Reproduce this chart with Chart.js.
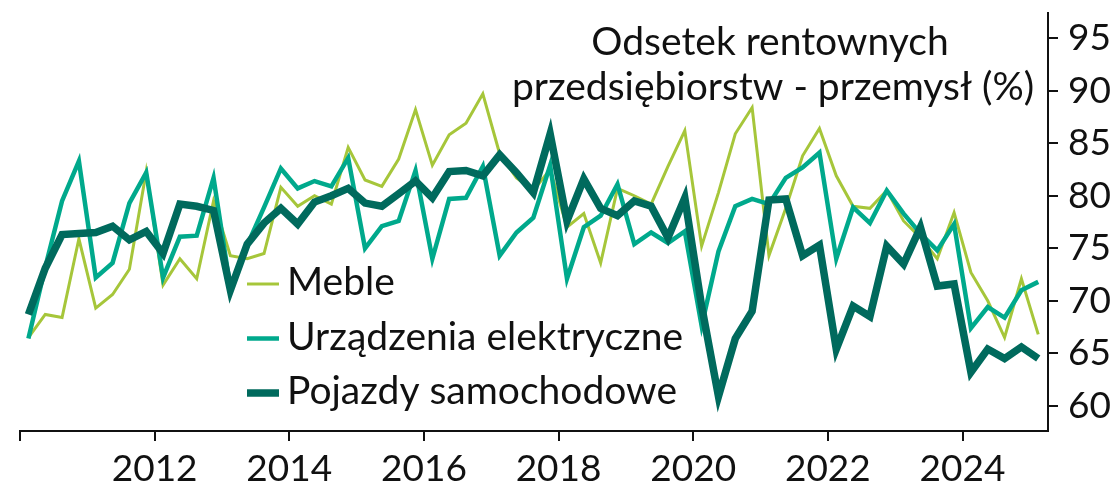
<!DOCTYPE html>
<html>
<head>
<meta charset="utf-8">
<script src="https://cdn.jsdelivr.net/npm/chart.js@4.4.1/dist/chart.umd.min.js"></script>
<style>
  html, body { margin: 0; padding: 0; background: #fff; }
  #wrap { width: 1117px; height: 484px; }
</style>
</head>
<body>
<div id="wrap"><canvas id="chart" width="1117" height="484"></canvas></div>
<script>
// kwartały 2010 Q1 - 2025 Q1 (środek kwartału)
const dates = [];
for (let q = 0; q <= 60; q++) dates.push(2010 + 0.125 + q * 0.25);

const meble = [66.5, 68.7, 68.4, 75.9, 69.3, 70.6, 73.0, 82.3, 71.5, 74.0,
  72.1, 79.5, 74.3, 74.0, 74.5, 80.8, 79.0, 80.0, 79.2, 84.6,
  81.5, 80.9, 83.5, 88.2, 82.9, 85.8, 86.9, 89.7, 84.0, 81.7,
  80.5, 82.5, 77.0, 78.3, 73.6, 80.7, 80.0, 79.2, 82.8, 86.2,
  75.2, 80.3, 85.9, 88.4, 74.3, 78.8, 83.8, 86.4, 81.9, 79.0,
  78.8, 80.5, 77.6, 76.0, 74.0, 78.4, 72.7, 70.0, 66.5, 72.1, 66.8];

const urzadzenia = [66.4, 73.2, 79.5, 83.3, 72.2, 73.6, 79.3, 82.2, 72.2, 76.1,
  76.2, 81.7, 71.2, 75.3, 78.9, 82.6, 80.7, 81.4, 80.9, 83.6,
  75.0, 77.1, 77.6, 82.4, 74.0, 79.7, 79.8, 82.8, 74.3, 76.5,
  77.9, 82.9, 72.1, 77.0, 78.1, 81.1, 75.4, 76.5, 75.5, 76.6,
  67.6, 74.7, 79.0, 79.7, 79.2, 81.7, 82.7, 84.1, 74.0, 78.9,
  77.4, 80.5, 78.3, 76.4, 74.8, 77.3, 67.4, 69.4, 68.4, 71.0, 71.8];

const pojazdy = [68.7, 73.1, 76.3, 76.4, 76.5, 77.1, 75.8, 76.6, 74.5, 79.2,
  79.0, 78.6, 71.0, 75.4, 77.4, 78.8, 77.3, 79.4, 80.0, 80.7,
  79.3, 79.0, 80.2, 81.4, 79.8, 82.3, 82.4, 81.9, 83.9, 82.2,
  80.3, 85.9, 77.6, 81.6, 78.8, 78.1, 79.5, 79.0, 76.0, 79.8,
  69.5, 60.9, 66.4, 69.0, 79.6, 79.7, 74.3, 75.3, 65.4, 69.5,
  68.5, 75.2, 73.5, 77.0, 71.4, 71.6, 63.2, 65.4, 64.5, 65.6, 64.5];

const xTicks = [2010, 2012, 2014, 2016, 2018, 2020, 2022, 2024];
const yTicks = [60, 65, 70, 75, 80, 85, 90, 95];
const titleLines = ["Odsetek rentownych", "przedsiębiorstw - przemysł (%)"];

const FONT = "Lato, 'Open Sans', sans-serif";
const INK = "#111";

function toPoints(values) {
  return values.map((v, i) => ({ x: dates[i], y: v }));
}

// tytuł i legenda wewnątrz wykresu
const overlay = {
  id: "overlay",
  afterDatasetsDraw(chart) {
    const ctx = chart.ctx;
    ctx.save();
    ctx.fillStyle = INK;
    ctx.font = "39px " + FONT;
    ctx.textAlign = "center";
    ctx.textBaseline = "alphabetic";
    ctx.fillText(titleLines[0], 770, 55);
    ctx.fillText(titleLines[1], 773, 100);

    // legenda w kolejności: Meble, Urządzenia, Pojazdy
    const rows = [2, 1, 0];
    rows.forEach((di, r) => {
      const ds = chart.data.datasets[di];
      const y = 284 + r * 54.5;
      ctx.strokeStyle = ds.borderColor;
      ctx.lineWidth = ds.borderWidth;
      ctx.lineCap = "butt";
      ctx.beginPath();
      ctx.moveTo(247, y);
      ctx.lineTo(279, y);
      ctx.stroke();
      ctx.textAlign = "left";
      ctx.fillText(ds.label, 287, y + 11);
    });
    ctx.restore();
  }
};

const ctx = document.getElementById("chart").getContext("2d");
new Chart(ctx, {
  type: "line",
  data: {
    datasets: [
      { label: "Pojazdy samochodowe", data: toPoints(pojazdy), borderColor: "#006a5d", borderWidth: 7.5, order: 1 },
      { label: "Urządzenia elektryczne", data: toPoints(urzadzenia), borderColor: "#00a98c", borderWidth: 4.5, order: 2 },
      { label: "Meble", data: toPoints(meble), borderColor: "#a6c63a", borderWidth: 3, order: 3 }
    ]
  },
  options: {
    responsive: false,
    animation: false,
    layout: { padding: { left: 20, top: 13, right: 0, bottom: 0 } },
    elements: {
      point: { radius: 0 },
      line: { tension: 0, borderJoinStyle: "miter", fill: false }
    },
    plugins: {
      legend: { display: false },
      tooltip: { enabled: false }
    },
    scales: {
      x: {
        type: "linear",
        min: 2010,
        max: 2025.27,
        afterBuildTicks: s => { s.ticks = xTicks.map(v => ({ value: v })); },
        afterFit: s => { s.height = 53; s.paddingLeft = 0; s.paddingRight = 0; },
        grid: { drawOnChartArea: false, drawTicks: true, tickLength: 10, color: INK, lineWidth: 2 },
        border: { display: true, color: INK, width: 2 },
        ticks: {
          callback: v => (v === 2010 ? "" : String(v)),
          autoSkip: false,
          maxRotation: 0,
          padding: 6,
          color: INK,
          font: { family: FONT, size: 37 }
        }
      },
      y: {
        type: "linear",
        position: "right",
        min: 57.6,
        max: 97.4,
        afterBuildTicks: s => { s.ticks = yTicks.map(v => ({ value: v })); },
        afterFit: s => { s.width = 69; s.paddingTop = 0; s.paddingBottom = 0; },
        grid: { drawOnChartArea: false, drawTicks: true, tickLength: 10, color: INK, lineWidth: 2 },
        border: { display: true, color: INK, width: 2 },
        ticks: {
          padding: 10,
          color: INK,
          font: { family: FONT, size: 37 }
        }
      }
    }
  },
  plugins: [overlay]
});
</script>
</body>
</html>
